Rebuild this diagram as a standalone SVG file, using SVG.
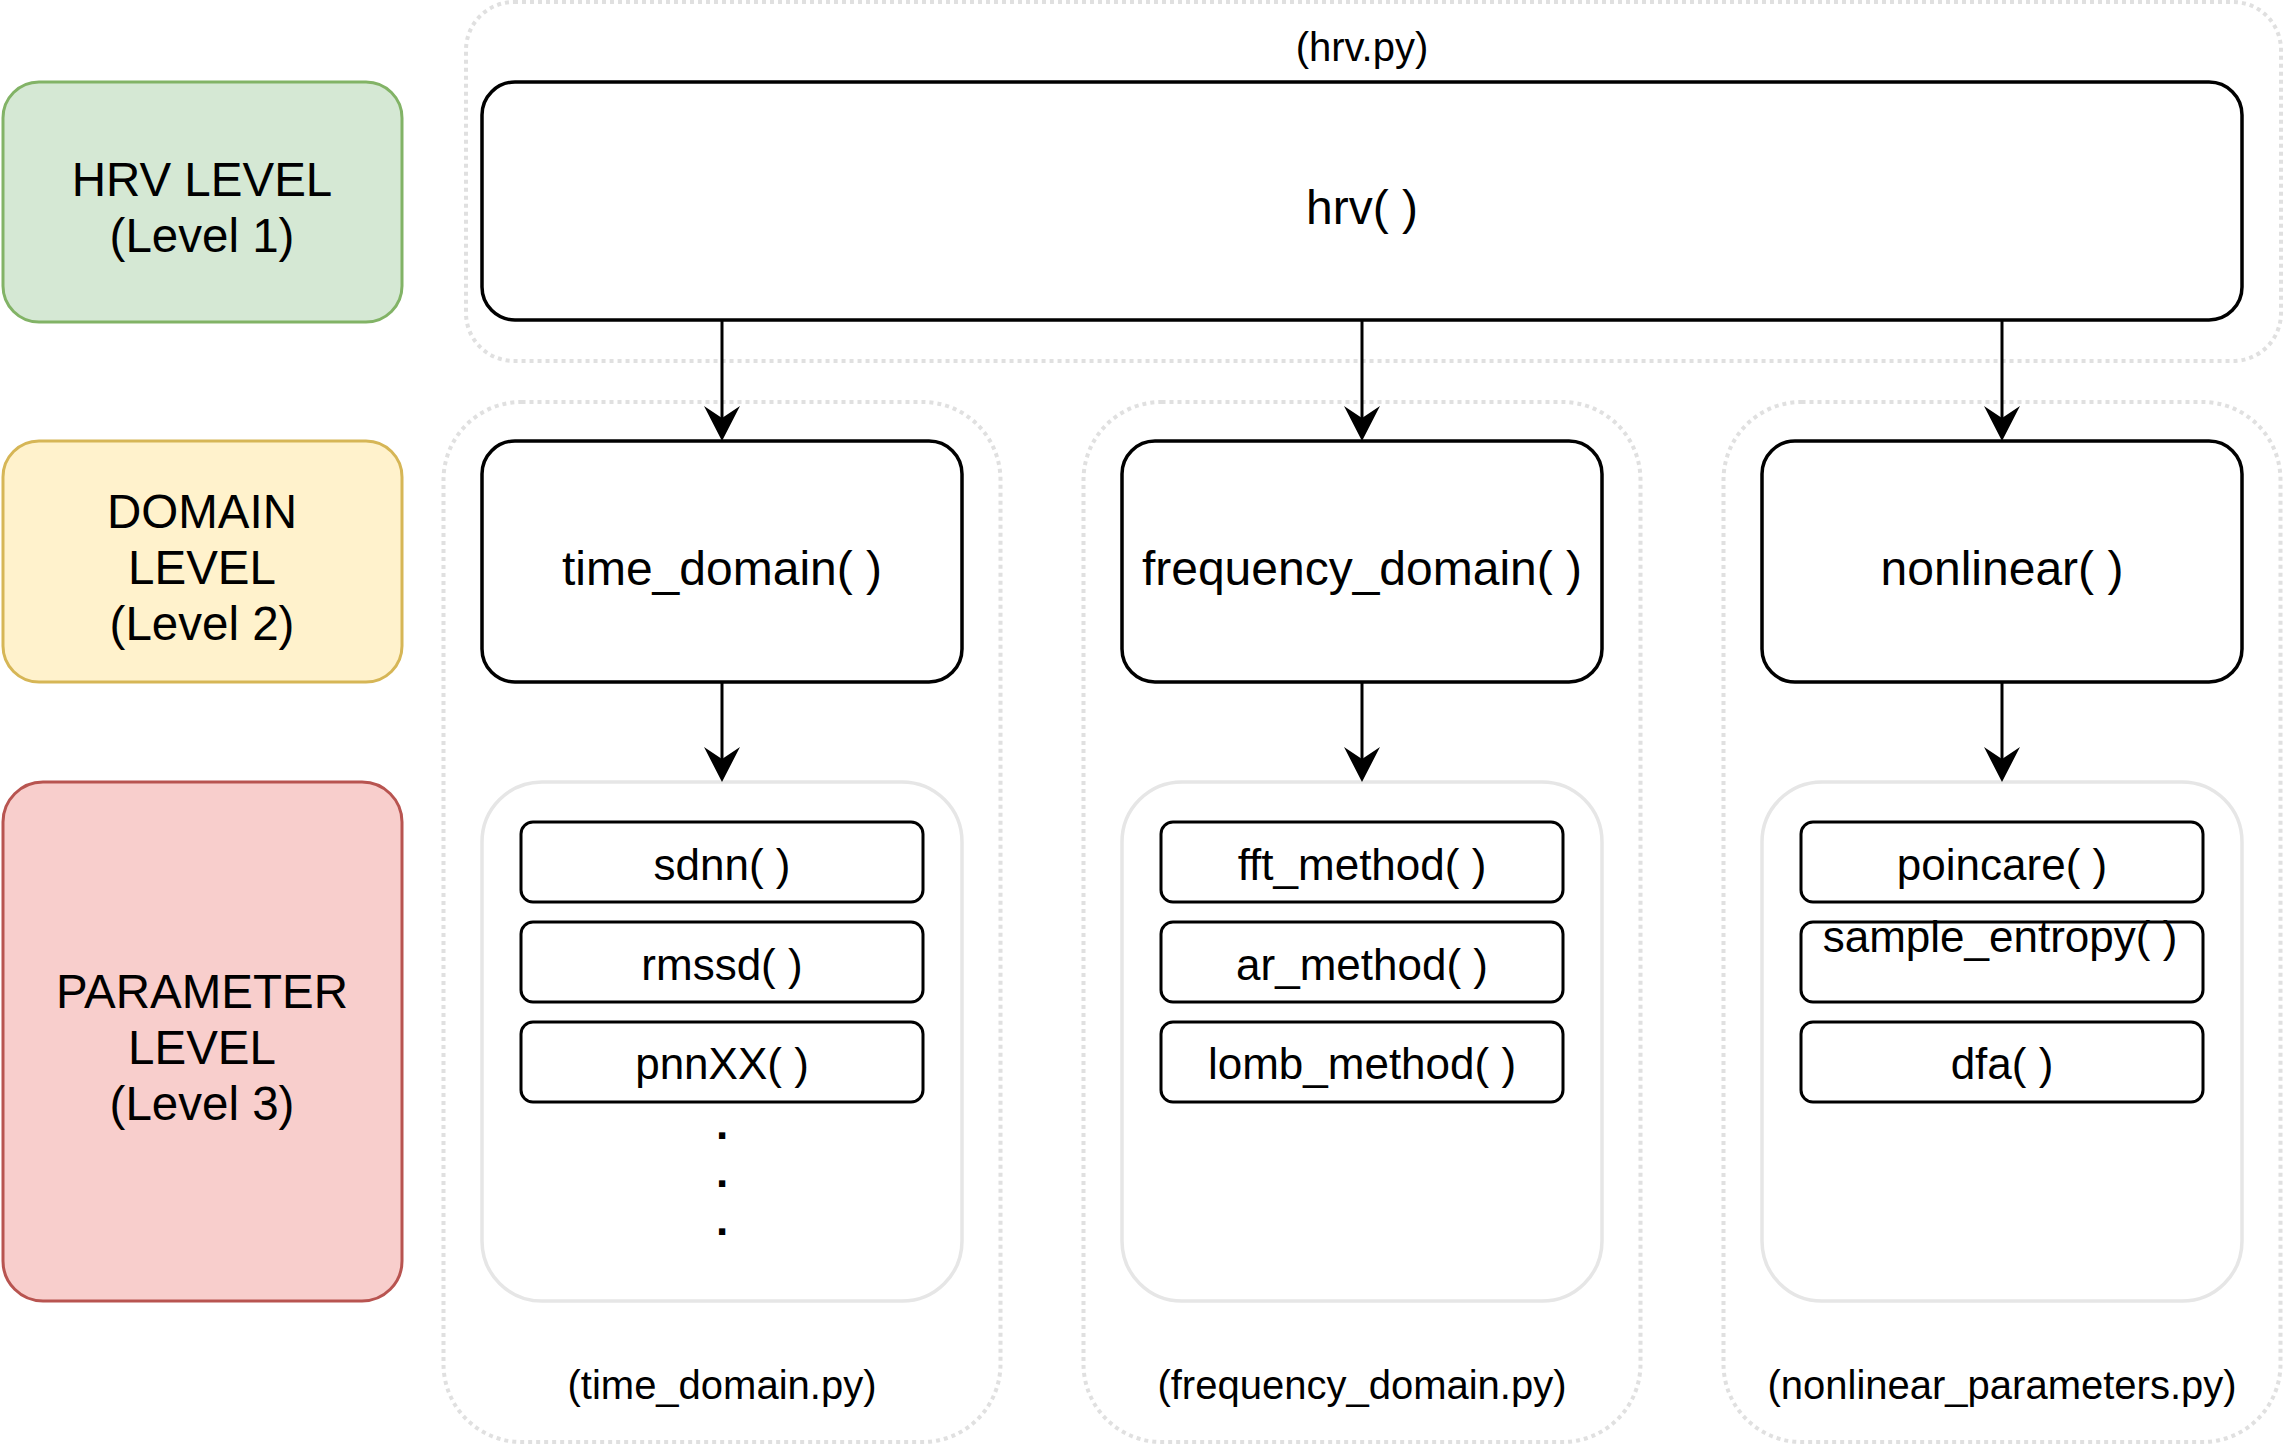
<svg xmlns="http://www.w3.org/2000/svg" width="2284" height="1444" viewBox="0 0 2284 1444">
<style>
  text { font-family: "Liberation Sans", Arial, Helvetica, sans-serif; fill: #000; text-anchor: middle; }
  .lvl { font-size: 47.5px; }
  .dom { font-size: 48px; }
  .par { font-size: 44px; }
  .file { font-size: 40px; }
  .dotted { fill: none; stroke: #e0e0e0; stroke-width: 4; stroke-dasharray: 4 4; }
  .pcont { fill: #ffffff; stroke: #e6e6e6; stroke-width: 3.5; }
  .box { fill: #ffffff; stroke: #000; stroke-width: 3.5; }
  .pbox { fill: #ffffff; stroke: #000; stroke-width: 3; }
  .edge { fill: none; stroke: #000; stroke-width: 3; }
</style>
<defs>
  <marker id="arrow" markerUnits="userSpaceOnUse" markerWidth="40" markerHeight="40" viewBox="0 0 40 40" refX="12" refY="18" orient="auto">
    <path d="M0,0 L35,18 L0,36 L12,18 Z" fill="#000"/>
  </marker>
</defs>
<rect width="2284" height="1444" fill="#ffffff"/>

<!-- level legend -->
<g id="hrv-level">
  <rect x="3" y="82" width="399" height="240" rx="36" fill="#d5e8d4" stroke="#82b366" stroke-width="3"/>
  <text class="lvl" x="202" y="196">HRV LEVEL</text>
  <text class="lvl" x="202" y="252">(Level 1)</text>
</g>
<g id="domain-level">
  <rect x="3" y="441" width="399" height="241" rx="36" fill="#fff2cc" stroke="#d6b656" stroke-width="3"/>
  <text class="lvl" x="202" y="528">DOMAIN</text>
  <text class="lvl" x="202" y="584">LEVEL</text>
  <text class="lvl" x="202" y="640">(Level 2)</text>
</g>
<g id="parameter-level">
  <rect x="3" y="782" width="399" height="519" rx="40" fill="#f8cecc" stroke="#b85450" stroke-width="3"/>
  <text class="lvl" x="202" y="1008">PARAMETER</text>
  <text class="lvl" x="202" y="1064">LEVEL</text>
  <text class="lvl" x="202" y="1120">(Level 3)</text>
</g>

<!-- file containers -->
<g id="hrv-py">
  <rect class="dotted" x="466" y="2" width="1815" height="359" rx="48"/>
  <text class="file" x="1362" y="61">(hrv.py)</text>
</g>
<g id="time-domain-py">
  <rect class="dotted" x="443.5" y="402" width="557" height="1040" rx="78"/>
  <text class="file" x="722" y="1399">(time_domain.py)</text>
</g>
<g id="frequency-domain-py">
  <rect class="dotted" x="1083.5" y="402" width="557" height="1040" rx="78"/>
  <text class="file" x="1362" y="1399">(frequency_domain.py)</text>
</g>
<g id="nonlinear-parameters-py">
  <rect class="dotted" x="1723.5" y="402" width="557" height="1040" rx="78"/>
  <text class="file" x="2002" y="1399">(nonlinear_parameters.py)</text>
</g>

<!-- level 1 -->
<g id="hrv">
  <rect class="box" x="482" y="82" width="1760" height="238" rx="33"/>
  <text class="dom" x="1362" y="224">hrv( )</text>
</g>

<!-- level 2 -->
<g id="time_domain">
  <rect class="box" x="482" y="441" width="480" height="241" rx="33"/>
  <text class="dom" x="722" y="585">time_domain( )</text>
</g>
<g id="frequency_domain">
  <rect class="box" x="1122" y="441" width="480" height="241" rx="33"/>
  <text class="dom" x="1362" y="585">frequency_domain( )</text>
</g>
<g id="nonlinear">
  <rect class="box" x="1762" y="441" width="480" height="241" rx="33"/>
  <text class="dom" x="2002" y="585">nonlinear( )</text>
</g>

<!-- level 3 -->
<g id="time-params">
  <rect class="pcont" x="482" y="782" width="480" height="519" rx="60"/>
</g>
<g id="sdnn">
  <rect class="pbox" x="521" y="822" width="402" height="80" rx="12"/>
  <text class="par" x="722" y="880">sdnn( )</text>
</g>
<g id="rmssd">
  <rect class="pbox" x="521" y="922" width="402" height="80" rx="12"/>
  <text class="par" x="722" y="980">rmssd( )</text>
</g>
<g id="pnnXX">
  <rect class="pbox" x="521" y="1022" width="402" height="80" rx="12"/>
  <text class="par" x="722" y="1079">pnnXX( )</text>
</g>
<g id="ellipsis">
  <text class="par" x="722" y="1139" font-weight="bold">.</text>
  <text class="par" x="722" y="1187" font-weight="bold">.</text>
  <text class="par" x="722" y="1235" font-weight="bold">.</text>
</g>

<g id="freq-params">
  <rect class="pcont" x="1122" y="782" width="480" height="519" rx="60"/>
</g>
<g id="fft_method">
  <rect class="pbox" x="1161" y="822" width="402" height="80" rx="12"/>
  <text class="par" x="1362" y="880">fft_method( )</text>
</g>
<g id="ar_method">
  <rect class="pbox" x="1161" y="922" width="402" height="80" rx="12"/>
  <text class="par" x="1362" y="980">ar_method( )</text>
</g>
<g id="lomb_method">
  <rect class="pbox" x="1161" y="1022" width="402" height="80" rx="12"/>
  <text class="par" x="1362" y="1079">lomb_method( )</text>
</g>

<g id="nonlinear-params">
  <rect class="pcont" x="1762" y="782" width="480" height="519" rx="60"/>
</g>
<g id="poincare">
  <rect class="pbox" x="1801" y="822" width="402" height="80" rx="12"/>
  <text class="par" x="2002" y="880">poincare( )</text>
</g>
<g id="sample_entropy">
  <rect class="pbox" x="1801" y="922" width="402" height="80" rx="12"/>
  <text class="par" x="2000" y="952">sample_entropy( )</text>
</g>
<g id="dfa">
  <rect class="pbox" x="1801" y="1022" width="402" height="80" rx="12"/>
  <text class="par" x="2002" y="1079">dfa( )</text>
</g>

<!-- connectors -->
<g id="connectors">
  <line class="edge" x1="722" y1="320" x2="722" y2="418" marker-end="url(#arrow)"/>
  <line class="edge" x1="1362" y1="320" x2="1362" y2="418" marker-end="url(#arrow)"/>
  <line class="edge" x1="2002" y1="320" x2="2002" y2="418" marker-end="url(#arrow)"/>
  <line class="edge" x1="722" y1="682" x2="722" y2="759" marker-end="url(#arrow)"/>
  <line class="edge" x1="1362" y1="682" x2="1362" y2="759" marker-end="url(#arrow)"/>
  <line class="edge" x1="2002" y1="682" x2="2002" y2="759" marker-end="url(#arrow)"/>
</g>
</svg>
